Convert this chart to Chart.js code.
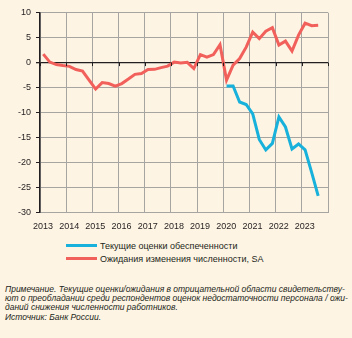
<!DOCTYPE html>
<html lang="ru">
<head>
<meta charset="UTF-8">
<title>Оценки обеспеченности персоналом</title>
<script src="https://cdn.jsdelivr.net/npm/chart.js"></script>
<style>
  html, body { margin: 0; padding: 0; background: #fdf4e3; }
  body { width: 352px; height: 338px; overflow: hidden; font-family: "Liberation Sans", Arial, sans-serif; color: #231f20; }
  .chart-box { position: relative; width: 352px; height: 236px; }
  .legend { position: absolute; left: 66px; top: 240px; font-size: 9px; }
  .legend div { height: 13.3px; line-height: 13.3px; white-space: nowrap; }
  .legend span.swatch { display: inline-block; width: 31px; height: 3px; vertical-align: middle; margin-right: 3px; position: relative; top: -1px; }
  .note { position: absolute; left: 5px; top: 285px; font-size: 8.5px; font-style: italic; line-height: 9.2px; white-space: nowrap; color: #231f20; }
</style>
</head>
<body>
<div class="chart-box"><canvas id="staffChart"></canvas></div>
<div class="legend" id="legend"></div>
<div class="note">
  Примечание. Текущие оценки/ожидания в отрицательной области свидетельству-<br>
  ют о преобладании среди респондентов оценок недостаточности персонала / ожи-<br>
  даний снижения численности работников.<br>
  Источник: Банк России.
</div>
<script>
// quarters, I.2013 ... III.2023
const quarters = [
  'I.2013','II.2013','III.2013','IV.2013',
  'I.2014','II.2014','III.2014','IV.2014',
  'I.2015','II.2015','III.2015','IV.2015',
  'I.2016','II.2016','III.2016','IV.2016',
  'I.2017','II.2017','III.2017','IV.2017',
  'I.2018','II.2018','III.2018','IV.2018',
  'I.2019','II.2019','III.2019','IV.2019',
  'I.2020','II.2020','III.2020','IV.2020',
  'I.2021','II.2021','III.2021','IV.2021',
  'I.2022','II.2022','III.2022','IV.2022',
  'I.2023','II.2023','III.2023'
];

// Ожидания изменения численности, SA
const expectations = [
  1.7, 0.1, -0.4, -0.6,
  -0.75, -1.4, -1.7, -3.5,
  -5.3, -4.0, -4.2, -4.7,
  -4.2, -3.3, -2.35, -2.2,
  -1.4, -1.35, -1.0, -0.7,
  0.1, -0.1, 0.05, -1.2,
  1.6, 1.1, 1.6, 3.6,
  -3.5, -0.5, 0.8, 3.1,
  6.1, 4.8, 6.3, 7.0,
  3.5, 4.3, 2.3, 5.5,
  7.9, 7.4, 7.5
];

// Текущие оценки обеспеченности (from I.2020)
const currentQuarters = [
  'I.2020','II.2020','III.2020','IV.2020',
  'I.2021','II.2021','III.2021','IV.2021',
  'I.2022','II.2022','III.2022','IV.2022',
  'I.2023','II.2023','III.2023'
];
const currentAssessment = [
  -4.7, -4.7, -7.9, -8.4,
  -10.3, -15.4, -17.5, -16.2,
  -10.9, -12.9, -17.3, -16.3,
  -17.5, -22.0, -26.7
];

const yearTicks = [2013, 2014, 2015, 2016, 2017, 2018, 2019, 2020, 2021, 2022, 2023, 2024];
const yTicks = [10, 5, 0, -5, -10, -15, -20, -25, -30];

const seriesNames = ['Текущие оценки обеспеченности', 'Ожидания изменения численности, SA'];
const seriesColors = ['#17b1db', '#f2605b'];

// 'III.2021' -> middle of the quarter on the year axis
function quarterPos(q) {
  const parts = q.split('.');
  const n = { 'I': 1, 'II': 2, 'III': 3, 'IV': 4 }[parts[0]];
  return Number(parts[1]) + (n - 0.5) / 4;
}

function toPoints(qs, vals) {
  return vals.map((v, i) => ({ x: quarterPos(qs[i]), y: v }));
}

// small black tick marks on the zero line
const zeroTicks = {
  id: 'zeroTicks',
  afterDatasetsDraw(chart) {
    const { ctx, scales } = chart;
    const y0 = scales.y.getPixelForValue(0);
    ctx.save();
    ctx.strokeStyle = '#231f20';
    ctx.lineWidth = 1;
    yearTicks.forEach(yr => {
      const x = Math.round(scales.x.getPixelForValue(yr)) + 0.5;
      ctx.beginPath();
      ctx.moveTo(x, y0);
      ctx.lineTo(x, y0 + 3.5);
      ctx.stroke();
    });
    ctx.restore();
  }
};

const ctx = document.getElementById('staffChart').getContext('2d');
const staffChart = new Chart(ctx, {
  type: 'line',
  data: {
    datasets: [
      {
        label: seriesNames[0],
        data: toPoints(currentQuarters, currentAssessment),
        borderColor: seriesColors[0],
        backgroundColor: seriesColors[0],
        borderWidth: 3,
        pointRadius: 0,
        tension: 0
      },
      {
        label: seriesNames[1],
        data: toPoints(quarters, expectations),
        borderColor: seriesColors[1],
        backgroundColor: seriesColors[1],
        borderWidth: 3,
        pointRadius: 0,
        tension: 0
      }
    ]
  },
  options: {
    responsive: true,
    maintainAspectRatio: false,
    animation: false,
    layout: { padding: { top: 12.7, right: 24, left: 0, bottom: 0 } },
    plugins: {
      legend: { display: false },
      tooltip: { enabled: false }
    },
    scales: {
      x: {
        type: 'linear',
        min: 2013,
        max: 2024,
        afterBuildTicks: s => { s.ticks = yearTicks.map(v => ({ value: v })); },
        afterFit: s => { s.height = 23.7; },
        grid: { color: '#a7a5a2', lineWidth: 1, drawTicks: false },
        border: { color: '#a7a5a2', width: 1 },
        ticks: {
          padding: 9,
          labelOffset: 3,
          maxRotation: 0,
          autoSkip: false,
          color: '#231f20',
          font: { family: 'Liberation Sans', size: 9 },
          callback: v => (v < 2024 ? String(v) : '')
        }
      },
      y: {
        min: -30,
        max: 10,
        afterBuildTicks: s => { s.ticks = yTicks.map(v => ({ value: v })); },
        afterFit: s => { s.width = 40; },
        grid: {
          color: c => (c.tick && c.tick.value === 0 ? '#231f20' : '#a7a5a2'),
          lineWidth: c => (c.tick && c.tick.value === 0 ? 1.3 : 1),
          tickColor: '#231f20',
          tickLength: 4
        },
        border: { color: '#231f20', width: 1.5 },
        ticks: {
          padding: 5,
          color: '#231f20',
          font: { family: 'Liberation Sans', size: 9 }
        }
      }
    }
  },
  plugins: [zeroTicks]
});

// legend below the chart
const legend = document.getElementById('legend');
legend.innerHTML = seriesNames.map((name, i) =>
  `<div><span class="swatch" style="background:${seriesColors[i]}"></span>${name}</div>`
).join('');
</script>
</body>
</html>
